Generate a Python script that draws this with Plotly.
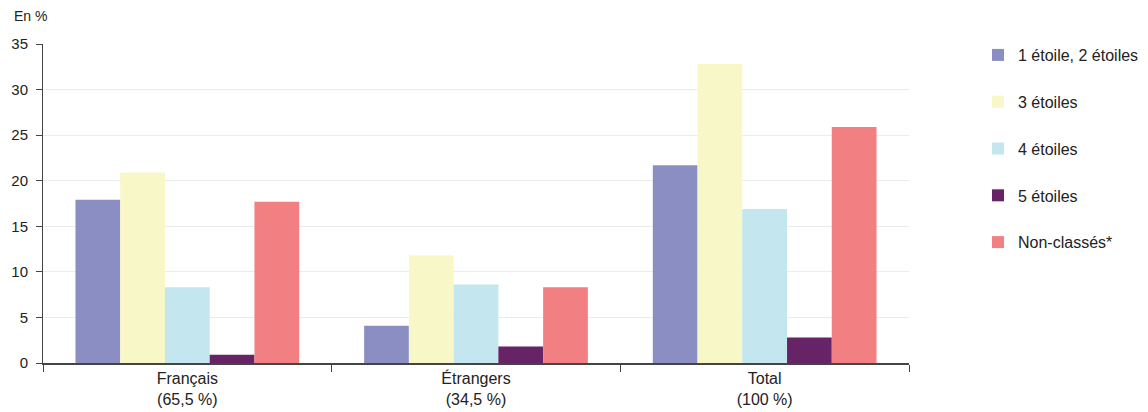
import plotly.graph_objects as go

categories = ["Français<br>(65,5 %)", "Étrangers<br>(34,5 %)", "Total<br>(100 %)"]
series_names = ["1 étoile, 2 étoiles", "3 étoiles", "4 étoiles", "5 étoiles", "Non-classés*"]
v_12 = [17.9, 4.1, 21.7]
v_3 = [20.9, 11.8, 32.8]
v_4 = [8.3, 8.6, 16.9]
v_5 = [0.9, 1.8, 2.8]
v_nc = [17.7, 8.3, 25.9]
colors = ["#8B8EC3", "#F8F7C7", "#C3E6EF", "#662366", "#F28083"]
y_ticks = [0, 5, 10, 15, 20, 25, 30, 35]

fig = go.Figure()
for i, (name, vals) in enumerate(zip(series_names, [v_12, v_3, v_4, v_5, v_nc])):
    fig.add_trace(go.Bar(x=categories, y=vals, name=name, marker_color=colors[i],
                         marker_line_width=0, legendgroup=str(i)))

# page body has an 8px margin, so the figure is drawn 8px in from the window edge
FW, FH = 1140, 404
ML, MR, MT, MB = 35, 239, 35.5, 48.5
W_PLOT = FW - ML - MR
H_PLOT = FH - MT - MB

fig.update_layout(
    width=FW, height=FH,
    margin=dict(l=ML, r=MR, t=MT, b=MB, autoexpand=False),
    plot_bgcolor="white", paper_bgcolor="white",
    font=dict(family="Liberation Sans, Arial, sans-serif", size=15, color="#222"),
    barmode="group", bargap=0.225, bargroupgap=0,
    legend=dict(x=(970 - ML) / W_PLOT, y=1 + 6 / H_PLOT, xanchor="left", yanchor="top",
                font=dict(size=16), tracegroupgap=23, itemwidth=30, maxheight=390),
    showlegend=True,
    annotations=[dict(text="En %", xref="paper", yref="paper",
                      x=(4 - ML) / W_PLOT, y=1 + (MT - 7) / H_PLOT,
                      showarrow=False, xanchor="left", yanchor="middle",
                      font=dict(size=14))],
)
fig.update_yaxes(range=[0, 35], tickvals=y_ticks, showgrid=True, gridcolor="#ebebeb",
                 showline=True, linecolor="#444", linewidth=1, ticks="outside",
                 ticklen=6, tickcolor="#444", zeroline=False, tickfont=dict(size=15),
                 ticklabelstandoff=5, automargin=False)
fig.update_xaxes(showline=True, linecolor="#444", linewidth=1.5, ticks="outside",
                 tickson="boundaries", ticklen=7, tickcolor="#444", tickfont=dict(size=16),
                 automargin=False)

fig.write_html("out.html")
